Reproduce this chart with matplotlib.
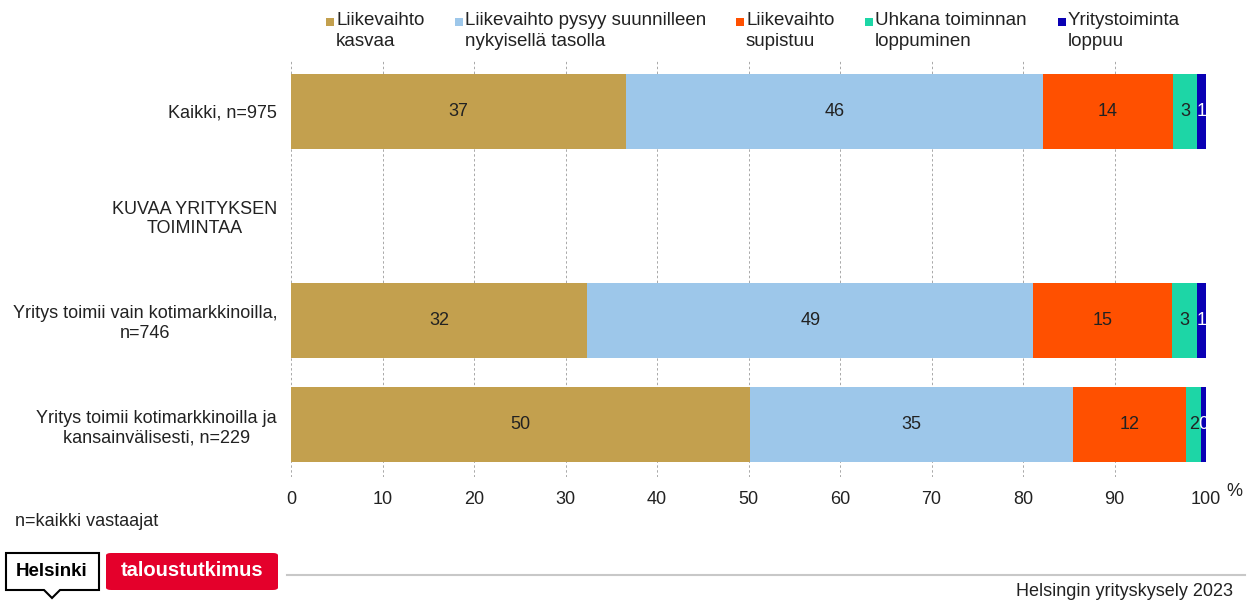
import matplotlib.pyplot as plt
from matplotlib.patches import Polygon, FancyBboxPatch, Rectangle
import numpy as np

plt.rcParams['font.family'] = ['Liberation Sans', 'DejaVu Sans']

categories = ['Kaikki, n=975', 'KUVAA YRITYKSEN\nTOIMINTAA',
              'Yritys toimii vain kotimarkkinoilla,\nn=746',
              'Yritys toimii kotimarkkinoilla ja\nkansainvälisesti, n=229']
series = ['Liikevaihto\nkasvaa', 'Liikevaihto pysyy suunnilleen\nnykyisellä tasolla',
          'Liikevaihto\nsupistuu', 'Uhkana toiminnan\nloppuminen', 'Yritystoiminta\nloppuu']
# None = heading row without bars
kasvaa = [36.6, None, 32.4, 50.2]
pysyy = [45.6, None, 48.7, 35.3]
supistuu = [14.2, None, 15.2, 12.3]
uhkana = [2.6, None, 2.7, 1.7]
loppuu = [1.0, None, 1.0, 0.5]
values = [kasvaa, pysyy, supistuu, uhkana, loppuu]
colors = ['#C3A04E', '#9DC7EA', '#FF5000', '#1DD6A6', '#0A00B4']
text_colors = ['#222222', '#222222', '#222222', '#222222', '#FFFFFF']
legend_x = [330, 459, 740, 869, 1062]  # legend marker centres, px

W, H = 1253, 603
fig = plt.figure(figsize=(W / 100, H / 100), dpi=100)
ax = fig.add_axes([291 / W, 1 - 477 / H, 915 / W, 418 / H])

y = np.arange(len(categories))
left = np.zeros(len(categories))
for vals, col, tcol in zip(values, colors, text_colors):
    idx = [i for i, v in enumerate(vals) if v is not None]
    w = np.array([vals[i] for i in idx])
    ax.barh(y[idx], w, left=left[idx], height=0.72, color=col, zorder=2)
    for i, wi in zip(idx, w):
        ax.text(left[i] + wi / 2, y[i], f'{wi:.0f}', ha='center', va='center',
                fontsize=13, color=tcol, zorder=3, clip_on=True)
        left[i] += wi

ax.set_xlim(0, 100)
ax.set_ylim(3.5, -0.5)
ax.set_xticks(range(0, 101, 10))
ax.set_yticks(y)
ax.set_yticklabels(categories)
for lab in ax.get_yticklabels():
    lab.set_multialignment('center')
ax.tick_params(axis='both', length=0, labelsize=13, colors='#222222')
ax.tick_params(axis='x', pad=10)
ax.tick_params(axis='y', pad=10)
ax.grid(axis='x', color='#A8A8A8', linestyle=(0, (2.5, 2.5)), linewidth=0.7, zorder=0)
for s in ax.spines.values():
    s.set_visible(False)
fig.text(1226 / W, 1 - 491 / H, '%', fontsize=13, ha='left', va='center', color='#222222')

# legend: square marker next to first line of each two-line label
for xp, col, name in zip(legend_x, colors, series):
    fig.patches.append(Rectangle(((xp - 4) / W, 1 - 26 / H), 8 / W, 8 / H,
                                 transform=fig.transFigure, facecolor=col, edgecolor='none'))
    fig.text((xp + 6) / W, 1 - 12 / H, name, fontsize=13.5, ha='left', va='top',
             color='#222222', linespacing=1.3)

fig.text(15 / W, 1 - 522 / H, 'n=kaikki vastaajat', fontsize=13, color='#222222', va='center')

# logos
pts = np.array([[6, 553], [99, 553], [99, 590], [60, 590], [52, 598], [44, 590], [6, 590]], float)
pts[:, 0] /= W
pts[:, 1] = 1 - pts[:, 1] / H
fig.patches.append(Polygon(pts, closed=True, transform=fig.transFigure,
                           facecolor='white', edgecolor='black', linewidth=1.5))
fig.text(52 / W, 1 - 572 / H, 'Helsinki', fontsize=13.5, fontweight='bold',
         ha='center', va='center', color='black')
fig.patches.append(FancyBboxPatch((106 / W, 1 - 590 / H), 172 / W, 37 / H,
                                  boxstyle='round,pad=0,rounding_size=0.004',
                                  transform=fig.transFigure, facecolor='#E4002B',
                                  edgecolor='none'))
fig.text(192 / W, 1 - 571 / H, 'taloustutkimus', fontsize=14.5, fontweight='bold',
         ha='center', va='center', color='white')
fig.lines.append(plt.Line2D([287 / W, 1245 / W], [1 - 575 / H, 1 - 575 / H],
                            transform=fig.transFigure, color='#C8C8C8', linewidth=1.5))
fig.text(1233 / W, 1 - 592 / H, 'Helsingin yrityskysely 2023', fontsize=13,
         ha='right', va='center', color='#222222')

fig.savefig('out.png', dpi=100)
